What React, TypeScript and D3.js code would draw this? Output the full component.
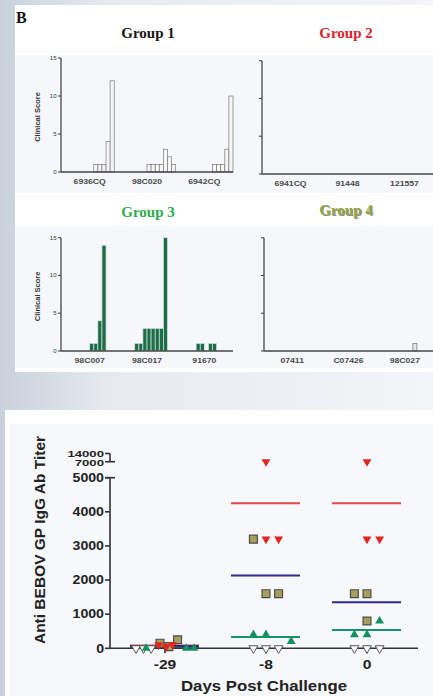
import React from 'react';
import * as d3 from 'd3';

// clinical scores, one bar per day of observation
const group1Animals = ['6936CQ', '98C020', '6942CQ'];
const group1Scores = [
  [0, 0, 0, 0, 0, 0, 0, 0, 1, 1, 1, 4, 12, 0],
  [0, 0, 0, 0, 0, 0, 0, 1, 1, 1, 1, 3, 2, 1],
  [0, 0, 0, 0, 0, 0, 0, 0, 0, 1, 1, 1, 3, 10],
];
const group2Animals = ['6941CQ', '91448', '121557'];
const group2Scores = [
  [0, 0, 0, 0, 0, 0, 0, 0, 0, 0, 0, 0, 0, 0],
  [0, 0, 0, 0, 0, 0, 0, 0, 0, 0, 0, 0, 0, 0],
  [0, 0, 0, 0, 0, 0, 0, 0, 0, 0, 0, 0, 0, 0],
];
const group3Animals = ['98C007', '98C017', '91670'];
const group3Scores = [
  [0, 0, 0, 0, 0, 0, 0, 1, 1, 4, 14, 0, 0, 0],
  [0, 0, 0, 0, 1, 1, 3, 3, 3, 3, 3, 15, 0, 0],
  [0, 0, 0, 0, 0, 1, 1, 0, 1, 1, 0, 0, 0, 0],
];
const group4Animals = ['07411', 'C07426', '98C027'];
const group4Scores = [
  [0, 0, 0, 0, 0, 0, 0, 0, 0, 0, 0, 0, 0, 0],
  [0, 0, 0, 0, 0, 0, 0, 0, 0, 0, 0, 0, 0, 0],
  [0, 0, 0, 0, 0, 0, 0, 0, 0, 1, 0, 0, 0, 0],
];
const scoreTicks = [0, 5, 10, 15];

// antibody titers: [value, order within the column]
const titerDays = ['-29', '-8', '0'];
const lowerTicks = [0, 1000, 2000, 3000, 4000, 5000];
const upperTicks = [7000, 14000];
const group1Titers = [
  [[0, -2.3], [0, -1.7], [0, -1.1]],
  [[0, -1], [0, 0], [0, 1]],
  [[0, -1], [0, 0], [0, 1]],
];
const group2Titers = [
  [[100, -0.5], [100, 0.6], [50, 0.1]],
  [[7000, 0], [3200, 0], [3200, 1]],
  [[7000, 0], [3200, 0], [3200, 1]],
];
const group3Titers = [
  [[0, -1.5], [0, 1.7], [0, 2.3]],
  [[400, -1], [400, 0], [200, 2]],
  [[800, 1], [400, -1], [400, 0]],
];
const group4Titers = [
  [[150, -0.4], [250, 1.0], [50, 0.3]],
  [[3200, -1], [1600, 0], [1600, 1]],
  [[1600, -1], [1600, 0], [800, 0]],
];
const group2Means = [80, 4250, 4250];
const group3Means = [20, 330, 540];
const group4Means = [70, 2130, 1350];

const SANS = 'Liberation Sans, Arial, sans-serif';
const SERIF = 'Liberation Serif, Times New Roman, serif';

function SText({ x, y, sx = 1, children, ...rest }: any) {
  return (
    <text transform={`translate(${x},${y}) scale(${sx},1)`} {...rest}>
      {children}
    </text>
  );
}

function ScorePanel(props: any) {
  const { animals, scores, left, right, top, bottom, tickLabels, title, titleX, titleY, titleColor, shadow, barFill, barStroke } = props;
  const x = d3.scaleBand().domain(animals).range([left, right]);
  const y = d3.scaleLinear().domain([0, 15]).range([bottom, top]);
  const day = d3.scaleBand().domain(scores[0].map((_: number, i: number) => String(i))).range([0, x.bandwidth()]);
  const axis = '#474747';
  return (
    <g>
      {shadow && (
        <text x={titleX + 1} y={titleY + 1} textAnchor="middle" fontFamily={SERIF} fontWeight="bold" fontSize={15} fill="#8d8d8d">
          {title}
        </text>
      )}
      <text x={titleX} y={titleY} textAnchor="middle" fontFamily={SERIF} fontWeight="bold" fontSize={15} fill={titleColor}>
        {title}
      </text>
      {animals.map((a: string, i: number) =>
        scores[i].map((v: number, j: number) =>
          v > 0 ? (
            <rect key={a + j} x={(x(a) as number) + (day(String(j)) as number)} y={y(v)} width={day.bandwidth()} height={y(0) - y(v)}
              fill={barFill} stroke={barStroke} strokeWidth={0.7} />
          ) : null
        )
      )}
      <line x1={left} x2={left} y1={top} y2={bottom} stroke={axis} strokeWidth={1.3} />
      <line x1={left} x2={right} y1={bottom} y2={bottom} stroke={axis} strokeWidth={1.3} />
      {scoreTicks.map(t => (
        <g key={t}>
          <line x1={left - 3} x2={left} y1={y(t)} y2={y(t)} stroke={axis} strokeWidth={1.1} />
          {tickLabels && (
            <SText x={left - 4.5} y={y(t) + 2} sx={1.1} textAnchor="end" fontFamily={SANS} fontSize={5.5} fill="#333">{t}</SText>
          )}
        </g>
      ))}
      {tickLabels && (
        <text transform={`translate(${left - 21},${(top + bottom) / 2 + 2}) rotate(-90)`} textAnchor="middle" fontFamily={SANS}
          fontWeight="bold" fontSize={7.5} fill="#333">Clinical Score</text>
      )}
      {animals.map((a: string) => (
        <SText key={a} x={(x(a) as number) + x.bandwidth() / 2} y={bottom + 12} sx={1.2} textAnchor="middle" fontFamily={SANS}
          fontWeight="bold" fontSize={7.2} fill="#4a4a4a">{a}</SText>
      ))}
    </g>
  );
}

export default function App() {
  const W = 433, H = 696;
  const x = d3.scalePoint().domain(titerDays).range([165, 367]);
  const yLow = d3.scaleLinear().domain([0, 5000]).range([648.3, 477.7]);
  const yHigh = d3.scaleLinear().domain([7000, 14000]).range([461.7, 453.5]);
  const y = (v: number) => (v > 5000 ? yHigh(v) : yLow(v));
  const slot = d3.scaleLinear().domain([0, 1]).range([0, 12.6]);
  const axisX = 110;
  const tri = d3.symbol(d3.symbolTriangle, 34)() as string;
  const sq = d3.symbol(d3.symbolSquare, 62)() as string;

  const meanLines = [
    { means: group2Means, color: '#e2474a' },
    { means: group3Means, color: '#159468' },
    { means: group4Means, color: '#2f2a8c' },
  ];

  const pts = (data: number[][][], fn: (px: number, py: number, k: string) => any) =>
    data.flatMap((col, i) => col.map(([v, s], j) => fn((x(titerDays[i]) as number) + slot(s), y(v), `${i}-${j}`)));

  return (
    <svg width={W} height={H} style={{ position: 'absolute', left: 0, top: 0 }}>
      <defs>
        <linearGradient id="bg" x1="0" x2="1" y1="0" y2="0">
          <stop offset="0" stopColor="#c9d1db" />
          <stop offset="0.25" stopColor="#e6eaef" />
          <stop offset="1" stopColor="#f3f5f8" />
        </linearGradient>
      </defs>
      <rect width={W} height={H} fill="url(#bg)" />
      <rect x={15} y={5} width={W - 15} height={367} fill="#ffffff" />
      <rect x={15} y={55} width={W - 15} height={138} fill="#f5f7fa" />
      <rect x={15} y={226} width={W - 15} height={142} fill="#f5f7fa" />
      <rect x={5} y={410} width={W - 5} height={H - 410} fill="#ffffff" />
      <rect x={10} y={424} width={W - 10} height={H - 424} fill="#f6f8fb" />

      <text x={16} y={23} fontFamily={SERIF} fontWeight="bold" fontSize={16} fill="#111">B</text>

      <ScorePanel animals={group1Animals} scores={group1Scores} left={61} right={233} top={58} bottom={172} tickLabels
        title="Group 1" titleX={148} titleY={38} titleColor="#151515" barFill="#f6f6f6" barStroke="#7a7a7a" />
      <ScorePanel animals={group2Animals} scores={group2Scores} left={262} right={433} top={60.7} bottom={174}
        title="Group 2" titleX={346} titleY={38} titleColor="#d8232c" barFill="#f6f6f6" barStroke="#7a7a7a" />
      <ScorePanel animals={group3Animals} scores={group3Scores} left={61} right={233} top={237.7} bottom={351} tickLabels
        title="Group 3" titleX={148} titleY={217} titleColor="#2cac4c" barFill="#1f6c4b" barStroke="#d3e8dc" />
      <ScorePanel animals={group4Animals} scores={group4Scores} left={264} right={433} top={237.7} bottom={351}
        title="Group 4" titleX={346} titleY={215} titleColor="#93a53a" shadow barFill="#e8e8e8" barStroke="#777" />

      {/* titer chart */}
      <text transform={`translate(45,${540}) rotate(-90)`} textAnchor="middle" fontFamily={SANS} fontWeight="bold"
        fontSize={15.5} fill="#222">Anti BEBOV GP IgG Ab Titer</text>
      <line x1={axisX} x2={axisX} y1={yLow(0)} y2={yLow(5000)} stroke="#333" strokeWidth={1.6} />
      <line x1={axisX - 5} x2={axisX + 5} y1={yLow(5000)} y2={yLow(5000)} stroke="#333" strokeWidth={1.6} />
      <line x1={axisX} x2={axisX} y1={yHigh(14000)} y2={yHigh(7000)} stroke="#333" strokeWidth={1.6} />
      <line x1={axisX} x2={axisX + 5} y1={yHigh(7000)} y2={yHigh(7000)} stroke="#333" strokeWidth={1.6} />
      {lowerTicks.map(t => (
        <g key={t}>
          <line x1={axisX - 5} x2={axisX} y1={y(t)} y2={y(t)} stroke="#333" strokeWidth={1.6} />
          <SText x={axisX - 6} y={y(t) + 4.3} sx={1.18} textAnchor="end" fontFamily={SANS} fontWeight="bold" fontSize={12}
            fill="#222">{t}</SText>
        </g>
      ))}
      {upperTicks.map(t => (
        <g key={t}>
          <line x1={axisX - 5} x2={axisX} y1={y(t)} y2={y(t)} stroke="#333" strokeWidth={1.6} />
          <SText x={axisX - 6} y={t === 14000 ? 456.6 : 466.4} sx={1.55} textAnchor="end" fontFamily={SANS} fontWeight="bold"
            fontSize={8.5} fill="#222">{t}</SText>
        </g>
      ))}
      {meanLines.map(m =>
        m.means.map((v, i) => (
          <line key={m.color + i} x1={(x(titerDays[i]) as number) - 35} x2={(x(titerDays[i]) as number) + 34} y1={y(v)} y2={y(v)}
            stroke={m.color} strokeWidth={2} />
        ))
      )}
      <line x1={axisX} x2={418} y1={yLow(0)} y2={yLow(0)} stroke="#333" strokeWidth={1.6} />
      {titerDays.map(d => (
        <g key={d}>
          <line x1={x(d)} x2={x(d)} y1={yLow(0)} y2={yLow(0) + 5} stroke="#333" strokeWidth={1.6} />
          <SText x={x(d)} y={669} sx={1.2} textAnchor="middle" fontFamily={SANS} fontWeight="bold" fontSize={13} fill="#222">{d}</SText>
        </g>
      ))}
      <SText x={264} y={691} sx={1.2} textAnchor="middle" fontFamily={SANS} fontWeight="bold" fontSize={14} fill="#222">
        Days Post Challenge
      </SText>

      {pts(group1Titers, (px, py, k) => (
        <path key={'a' + k} d={tri} transform={`translate(${px},${py}) rotate(180)`} fill="#ffffff" stroke="#555" strokeWidth={1} />
      ))}
      {pts(group3Titers, (px, py, k) => (
        <path key={'c' + k} d={tri} transform={`translate(${px},${py})`} fill="#14905e" />
      ))}
      {pts(group4Titers, (px, py, k) => (
        <path key={'d' + k} d={sq} transform={`translate(${px},${py})`} fill="#a99f5c" stroke="#4b4b4b" strokeWidth={1.2} />
      ))}
      {pts(group2Titers, (px, py, k) => (
        <path key={'b' + k} d={tri} transform={`translate(${px},${py}) rotate(180)`} fill="#e2261f" />
      ))}
    </svg>
  );
}
